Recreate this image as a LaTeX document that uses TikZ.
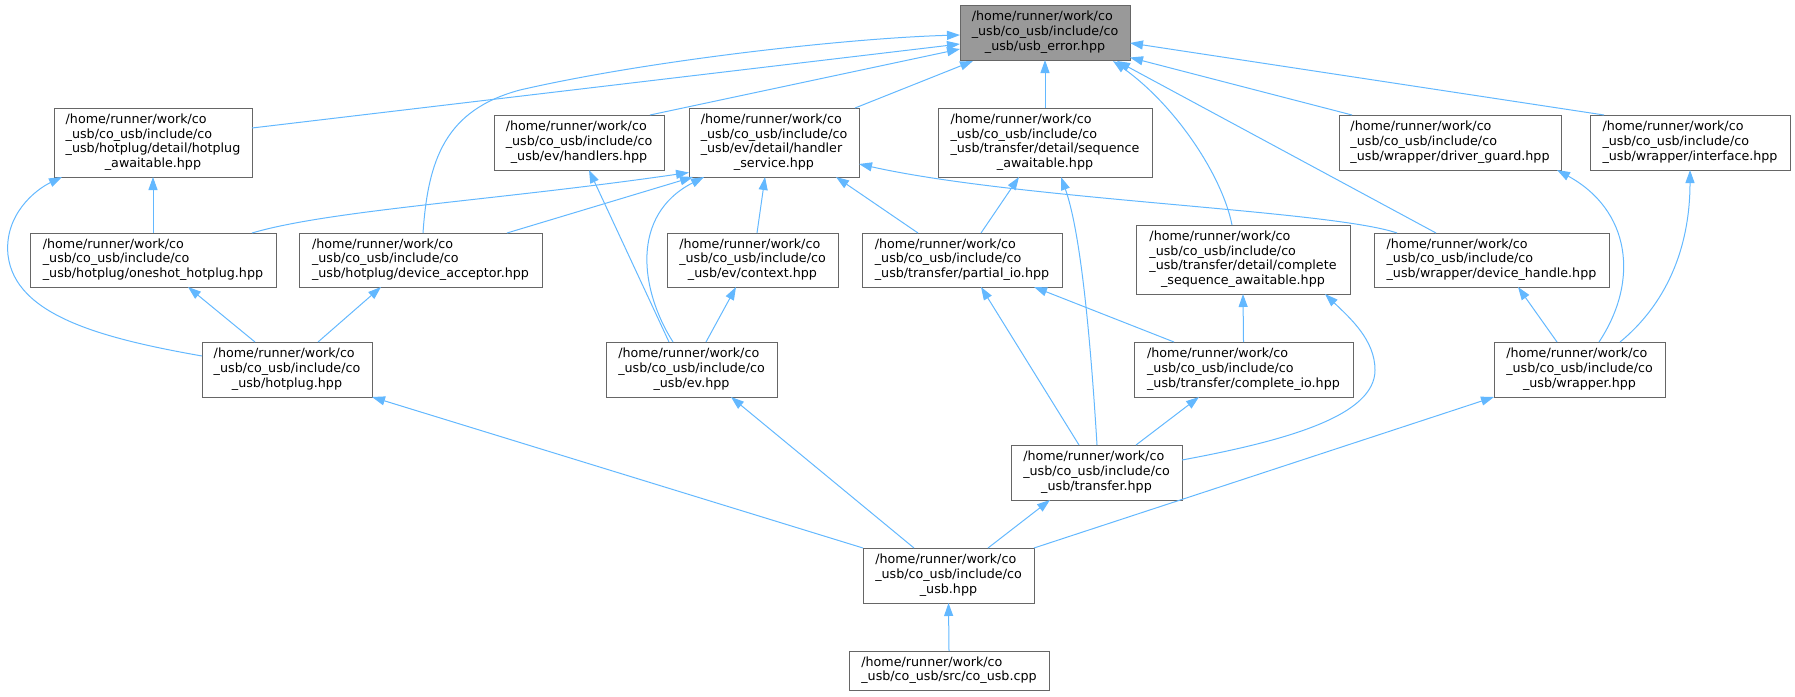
\documentclass[tikz,border=0pt]{standalone}
\usepackage{fontspec}
\setmainfont{DejaVu Sans}
\usetikzlibrary{arrows.meta,calc}
\definecolor{edgec}{HTML}{63B8FF}
\definecolor{boxc}{HTML}{666666}
\definecolor{errfill}{HTML}{999999}
\newcommand{\flab}[2]{\begin{tabular}{@{}l@{}}#1\multicolumn{1}{@{}c@{}}{#2}\end{tabular}}
\newcommand{\ha}{/home/runner/work/co\\}
\newcommand{\hb}{\_usb/co\_usb/include/co\\}
\begin{document}
\begin{tikzpicture}[x=1pt,y=-1pt,
 file/.style={draw=boxc, line width=1pt, fill=white, inner sep=0pt, minimum width=170pt, minimum height=55pt, font=\fontsize{12.7}{14.7}\selectfont},
 four/.style={minimum height=69pt},
 two/.style={minimum height=39pt},
 edge/.style={draw=edgec, line width=1pt, -{Triangle[length=13pt,width=9pt]}}]
\useasboundingbox (0,0) rectangle (1795,696);
% nodes
\node[file, fill=errfill] (err) at (1045,32.5) {\flab{\ha\hb}{\_usb/usb\_error.hpp}};
\node[file, four, minimum width=198pt] (hpaw) at (153,142.5) {\flab{\ha\hb\_usb/hotplug/detail/hotplug\\}{\_awaitable.hpp}};
\node[file] (hand) at (579,142.5) {\flab{\ha\hb}{\_usb/ev/handlers.hpp}};
\node[file, four] (hsvc) at (774,142.5) {\flab{\ha\hb\_usb/ev/detail/handler\\}{\_service.hpp}};
\node[file, four, minimum width=214pt] (seqaw) at (1045,142.5) {\flab{\ha\hb\_usb/transfer/detail/sequence\\}{\_awaitable.hpp}};
\node[file, minimum width=222pt] (drvg) at (1450,142.5) {\flab{\ha\hb}{\_usb/wrapper/driver\_guard.hpp}};
\node[file, minimum width=200pt] (iface) at (1690,142.5) {\flab{\ha\hb}{\_usb/wrapper/interface.hpp}};
\node[file, minimum width=246pt, minimum height=54pt] (oneshot) at (153,260) {\flab{\ha\hb}{\_usb/hotplug/oneshot\_hotplug.hpp}};
\node[file, minimum width=243pt, minimum height=54pt] (devacc) at (420.5,260) {\flab{\ha\hb}{\_usb/hotplug/device\_acceptor.hpp}};
\node[file] (hotplug) at (287,369.5) {\flab{\ha\hb}{\_usb/hotplug.hpp}};
\node[file, minimum width=171pt, minimum height=54pt] (context) at (752.5,260) {\flab{\ha\hb}{\_usb/ev/context.hpp}};
\node[file, minimum width=200pt, minimum height=54pt] (pio) at (962,260) {\flab{\ha\hb}{\_usb/transfer/partial\_io.hpp}};
\node[file, minimum width=171pt] (ev) at (691.5,369.5) {\flab{\ha\hb}{\_usb/ev.hpp}};
\node[file, four, minimum width=214pt] (cseq) at (1243,259.5) {\flab{\ha\hb\_usb/transfer/detail/complete\\}{\_sequence\_awaitable.hpp}};
\node[file, minimum width=235pt, minimum height=54pt] (devh) at (1491.5,260) {\flab{\ha\hb}{\_usb/wrapper/device\_handle.hpp}};
\node[file, minimum width=219pt] (cio) at (1243.5,369.5) {\flab{\ha\hb}{\_usb/transfer/complete\_io.hpp}};
\node[file, minimum width=171pt] (wrap) at (1579.5,369.5) {\flab{\ha\hb}{\_usb/wrapper.hpp}};
\node[file, minimum width=171pt] (transfer) at (1096.5,472.5) {\flab{\ha\hb}{\_usb/transfer.hpp}};
\node[file, minimum width=171pt] (cousb) at (948.5,575.5) {\flab{\ha\hb}{\_usb.hpp}};
\node[file, two, minimum width=200pt] (cpp) at (949,670.5) {\flab{\ha}{\_usb/co\_usb/src/co\_usb.cpp}};
% edges into usb_error
\draw[edge] ($(hpaw)+(99,-14.5)$) -- ($(err)+(-85,11.5)$);
\draw[edge] ($(devacc)+(2.5,-27)$) .. controls (428,160) and (445,110) .. (520,90) .. controls (650,60) and (850,38) .. ($(err)+(-85,2.5)$);
\draw[edge] ($(hand)+(71,-27.5)$) -- ($(err)+(-85,16.5)$);
\draw[edge] ($(hsvc)+(81,-34.5)$) -- ($(err)+(-72,28.5)$);
\draw[edge] ($(seqaw)+(0,-34.5)$) -- ($(err)+(0,27.5)$);
\draw[edge] ($(cseq)+(-11,-34.5)$) .. controls (1222,175) and (1175,105) .. ($(err)+(68,28.5)$);
\draw[edge] ($(devh)+(-55.5,-27)$) -- ($(err)+(72,28.5)$);
\draw[edge] ($(drvg)+(-98,-27.5)$) -- ($(err)+(85,25)$);
\draw[edge] ($(iface)+(-86,-27.5)$) -- ($(err)+(85,10.5)$);
% into hotplug_awaitable
\draw[edge] ($(oneshot)+(0,-27)$) -- ($(hpaw)+(0,34.5)$);
\draw[edge] ($(hotplug)+(-85,-13.5)$) .. controls (100,338) and (15,315) .. (8,255) .. controls (4,215) and (35,190) .. ($(hpaw)+(-91,34.5)$);
% into handlers
\draw[edge] ($(ev)+(-22.5,-27.5)$) -- ($(hand)+(10,27.5)$);
% into handler_service
\draw[edge] ($(oneshot)+(99,-27)$) .. controls (330,210) and (500,200) .. ($(hsvc)+(-85,30)$);
\draw[edge] ($(devacc)+(86.5,-27)$) -- ($(hsvc)+(-81,34.5)$);
\draw[edge] ($(ev)+(-18.5,-27.5)$) .. controls (640,290) and (630,215) .. ($(hsvc)+(-70,34.5)$);
\draw[edge] ($(context)+(4.5,-27)$) -- ($(hsvc)+(-9,34.5)$);
\draw[edge] ($(pio)+(-44,-27)$) -- ($(hsvc)+(62,34.5)$);
\draw[edge] ($(devh)+(-94.5,-27)$) .. controls (1330,210) and (1020,200) .. ($(hsvc)+(85,21.5)$);
% into sequence_awaitable
\draw[edge] ($(pio)+(19,-27)$) -- ($(seqaw)+(-26,34.5)$);
\draw[edge] ($(transfer)+(0.5,-27.5)$) .. controls (1090,330) and (1080,230) .. ($(seqaw)+(16,34.5)$);
% into row 2
\draw[edge] ($(hotplug)+(-32,-27.5)$) -- ($(oneshot)+(35,27)$);
\draw[edge] ($(hotplug)+(31,-27.5)$) -- ($(devacc)+(-39.5,27)$);
\draw[edge] ($(ev)+(14.5,-27.5)$) -- ($(context)+(-16.5,27)$);
\draw[edge] ($(transfer)+(-17.5,-27.5)$) -- ($(pio)+(19,27)$);
\draw[edge] ($(cio)+(-69.5,-27.5)$) -- ($(pio)+(72,27)$);
\draw[edge] ($(cio)+(0,-27.5)$) -- ($(cseq)+(0,34.5)$);
\draw[edge] ($(transfer)+(85.5,-12.5)$) .. controls (1290,440) and (1375,415) .. (1375,370) .. controls (1375,340) and (1350,318) .. ($(cseq)+(82,34.5)$);
\draw[edge] ($(transfer)+(39.5,-27.5)$) -- ($(cio)+(-44.5,27.5)$);
\draw[edge] ($(wrap)+(-22.5,-27.5)$) -- ($(devh)+(26.5,27)$);
\draw[edge] ($(wrap)+(19.5,-27.5)$) .. controls (1640,280) and (1630,210) .. ($(drvg)+(107,27.5)$);
\draw[edge] ($(wrap)+(40.5,-27.5)$) .. controls (1665,305) and (1690,250) .. ($(iface)+(0,27.5)$);
% into co_usb.hpp parents
\draw[edge] ($(cousb)+(-85.5,-27.5)$) -- ($(hotplug)+(85,27.5)$);
\draw[edge] ($(cousb)+(-34.5,-27.5)$) -- ($(ev)+(39.5,27.5)$);
\draw[edge] ($(cousb)+(39.5,-27.5)$) -- ($(transfer)+(-46.5,27.5)$);
\draw[edge] ($(cousb)+(85.5,-27.5)$) -- ($(wrap)+(-85.5,27.5)$);
\draw[edge] ($(cpp)+(0,-19.5)$) -- ($(cousb)+(0,27.5)$);
\end{tikzpicture}
\end{document}
